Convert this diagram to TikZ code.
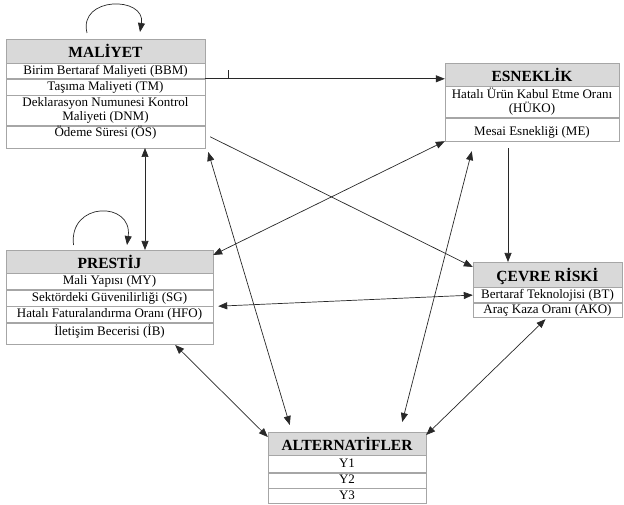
\documentclass[tikz,border=0pt]{standalone}
\usepackage{fontspec}
\setmainfont{Liberation Serif}
\usetikzlibrary{positioning,arrows.meta}
\definecolor{headgray}{RGB}{217,217,217}
\definecolor{boxgray}{RGB}{166,166,166}
\definecolor{linkgray}{RGB}{40,40,40}

\begin{document}
\begin{tikzpicture}[x=1pt,y=-1pt,
  head/.style={draw=boxgray,fill=headgray,inner sep=0pt,anchor=north,text height=13pt,text depth=0pt,font=\fontsize{15.5}{17}\selectfont\bfseries},
  cell/.style={draw=boxgray,inner sep=0pt,anchor=north,align=center,font=\fontsize{13}{14}\selectfont},
  row/.style={cell,text height=9.5pt,text depth=3pt},
  link/.style={draw=linkgray,line width=0.7pt,-{Triangle[length=9pt,width=7pt]}},
  both/.style={link,{Triangle[length=9pt,width=7pt]}-{Triangle[length=9pt,width=7pt]}}]
  \useasboundingbox (0,0) rectangle (624,505);

  \node[head,minimum width=199pt,minimum height=24pt] (maliyet) at (105.5,39) {MALİYET};
  \node[row,minimum width=199pt,minimum height=15pt,below=0pt of maliyet] (m1) {Birim Bertaraf Maliyeti (BBM)};
  \node[row,minimum width=199pt,minimum height=16pt,below=0pt of m1] (m2) {Taşıma Maliyeti (TM)};
  \node[cell,minimum width=199pt,minimum height=30pt,below=0pt of m2] (m3) {Deklarasyon Numunesi Kontrol\\Maliyeti (DNM)};
  \node[row,minimum width=199pt,minimum height=22pt,text depth=10pt,below=0pt of m3] (m4) {Ödeme Süresi (ÖS)};

  \node[head,minimum width=174pt,minimum height=23pt] (esneklik) at (532,63) {ESNEKLİK};
  \node[cell,minimum width=174pt,minimum height=31pt,below=0pt of esneklik] (e1) {Hatalı Ürün Kabul Etme Oranı\\(HÜKO)};
  \node[row,minimum width=174pt,minimum height=23pt,text height=16pt,below=0pt of e1] (e2) {Mesai Esnekliği (ME)};

  \node[head,minimum width=207pt,minimum height=23pt] (prestij) at (109.5,250) {PRESTİJ};
  \node[row,minimum width=207pt,minimum height=16pt,below=0pt of prestij] (p1) {Mali Yapısı (MY)};
  \node[row,minimum width=207pt,minimum height=16pt,below=0pt of p1] (p2) {Sektördeki Güvenilirliği (SG)};
  \node[row,minimum width=207pt,minimum height=16pt,below=0pt of p2] (p3) {Hatalı Faturalandırma Oranı (HFO)};
  \node[row,minimum width=207pt,minimum height=21pt,text depth=6pt,below=0pt of p3] (p4) {İletişim Becerisi (İB)};

  \node[head,minimum width=149pt,minimum height=25pt] (cevre) at (547.5,262) {ÇEVRE RİSKİ};
  \node[row,minimum width=149pt,minimum height=15pt,below=0pt of cevre] (c1) {Bertaraf Teknolojisi (BT)};
  \node[row,minimum width=149pt,minimum height=14pt,below=0pt of c1] (c2) {Araç Kaza Oranı (AKO)};

  \node[head,minimum width=158pt,minimum height=23pt] (alternatif) at (347,432) {ALTERNATİFLER};
  \node[row,minimum width=158pt,minimum height=17pt,below=0pt of alternatif] (y1) {Y1};
  \node[row,minimum width=158pt,minimum height=15pt,below=0pt of y1] (y2) {Y2};
  \node[row,minimum width=158pt,minimum height=15pt,below=0pt of y2] (y3) {Y3};

  \draw[link] ([shift={(-18.5pt,6pt)}]maliyet.north) .. controls +(-9,-37) and +(6,-36) .. ([shift={(34.5pt,7pt)}]maliyet.north);
  \draw[link] ([shift={(-36pt,5pt)}]prestij.north) .. controls +(-5,-44) and +(6,-44) .. ([shift={(17.5pt,5pt)}]prestij.north);

  \draw[link] (m2.north east) -- (m2.north east -| esneklik.west);
  \draw[link,-] ([xshift=23pt]m2.north east) -- ++(0,-9);
  \draw[both] ([xshift=39.5pt]m4.south) -- ([xshift=39.5pt]m4.south |- prestij.north);
  \draw[link] ([xshift=5pt]m4.east) -- ([yshift=-5pt]cevre.north west);
  \draw[both] (e2.south west) -- ([yshift=-5pt]prestij.north east);
  \draw[link] ([shift={(-24pt,-7pt)}]e2.south) -- ([xshift=-24pt]e2.south |- cevre.north);
  \draw[both] ([xshift=5pt]p2.south east) -- (c1.west);
  \draw[both] ([shift={(3pt,-4pt)}]m4.south east) -- ([shift={(22pt,7pt)}]alternatif.north west);
  \draw[both] ([shift={(27pt,-10pt)}]e2.south west) -- ([shift={(-24pt,10pt)}]alternatif.north east);
  \draw[both] ([shift={(-38pt,-1pt)}]p4.south east) -- ([yshift=-5pt]alternatif.north west);
  \draw[both] ([shift={(-2pt,-2pt)}]c2.south) -- ([yshift=-3pt]alternatif.north east);
\end{tikzpicture}
\end{document}
